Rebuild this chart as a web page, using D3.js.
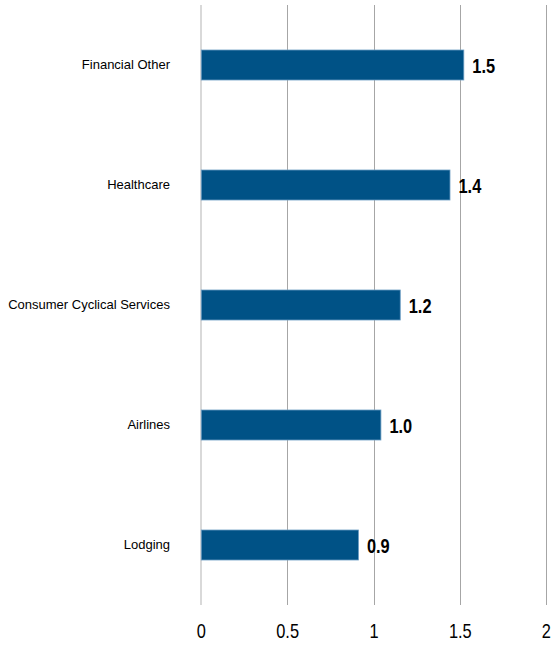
<!DOCTYPE html>
<html>
<head>
<meta charset="utf-8">
<script src="https://cdn.jsdelivr.net/npm/d3@7"></script>
<style>
  html, body { margin: 0; padding: 0; background: #fff; }
  svg { display: block; }
</style>
</head>
<body>
<svg id="chart" width="551" height="647"></svg>
<script>
// Sector values (top to bottom)
const categories = ["Financial Other", "Healthcare", "Consumer Cyclical Services", "Airlines", "Lodging"];
const values = [1.52, 1.44, 1.152, 1.04, 0.91];
const tickValues = [0, 0.5, 1, 1.5, 2];
const tickLabels = ["0", "0.5", "1", "1.5", "2"];

const W = 551;
const svg = d3.select("#chart");
const plot = { left: 201.3, right: 546.7, top: 5, bottom: 605 };

const x = d3.scaleLinear().domain([0, 2]).range([plot.left, plot.right]);
const y = d3.scaleBand().domain(categories).range([plot.top, plot.bottom])
  .paddingInner(0.75).paddingOuter(0.375);

const font = "'Liberation Sans', Arial, sans-serif";
const squeeze = 0.82; // condensed look for numbers

// vertical gridlines
svg.append("g").selectAll("line")
  .data(tickValues)
  .join("line")
  .attr("x1", d => x(d)).attr("x2", d => x(d))
  .attr("y1", plot.top).attr("y2", plot.bottom)
  .attr("stroke", d => d === 0 ? "#d9d9d9" : "#a6a6a6")
  .attr("stroke-width", d => d === 0 ? 2 : 1)
  .attr("shape-rendering", "crispEdges");

// bottom axis labels (condensed)
const xAxis = d3.axisBottom(x).tickValues(tickValues)
  .tickFormat((d, i) => tickLabels[i]).tickSize(0).tickPadding(0);
const gx = svg.append("g").attr("transform", `translate(0, ${plot.bottom})`).call(xAxis);
gx.select(".domain").remove();
gx.selectAll(".tick").attr("transform", null);
gx.selectAll(".tick text")
  .attr("x", 0).attr("y", 0).attr("dy", null)
  .attr("font-family", font).attr("font-size", 20).attr("fill", "#000")
  .attr("text-anchor", "middle")
  .attr("transform", d => {
    const cx = Math.min(x(d), W - 4.6);
    return `translate(${cx}, 33) scale(${squeeze}, 1)`;
  });

// category labels
const yAxis = d3.axisLeft(y).tickSize(0).tickPadding(0);
const gy = svg.append("g").attr("transform", "translate(170, 0)").call(yAxis);
gy.select(".domain").remove();
gy.selectAll("text")
  .attr("font-family", font)
  .attr("font-size", 13).attr("fill", "#000");

// bars
svg.append("g").selectAll("rect")
  .data(values)
  .join("rect")
  .attr("x", x(0))
  .attr("y", (d, i) => y(categories[i]))
  .attr("width", d => x(d) - x(0))
  .attr("height", y.bandwidth())
  .attr("fill", "#005286")
  .attr("stroke", "#6a9cc2")
  .attr("stroke-width", 0.8);

// value labels (bold, condensed)
svg.append("g").selectAll("text")
  .data(values)
  .join("text")
  .attr("x", 0).attr("y", 0)
  .attr("dy", "0.35em")
  .attr("transform", (d, i) =>
    `translate(${x(d) + 8.5}, ${y(categories[i]) + y.bandwidth() / 2 + 0.5}) scale(${squeeze}, 1)`)
  .attr("font-family", font)
  .attr("font-weight", "bold")
  .attr("font-size", 20)
  .attr("fill", "#000")
  .text(d => d3.format(".1f")(d));
</script>
</body>
</html>
